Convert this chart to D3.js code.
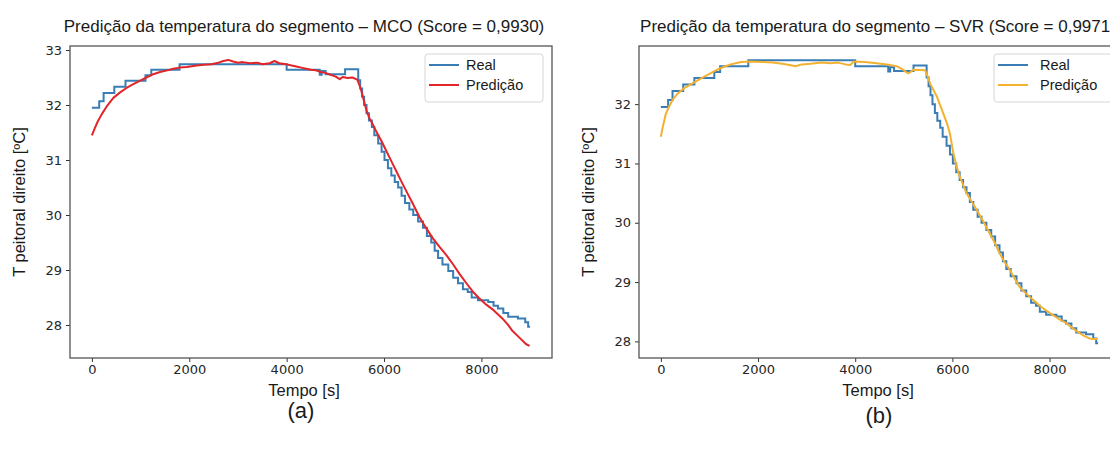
<!DOCTYPE html>
<html>
<head>
<meta charset="utf-8">
<script src="https://cdn.jsdelivr.net/npm/d3@7"></script>
<style>
  body { margin: 0; background: #fff; overflow: hidden; }
  svg text { font-family: "Liberation Sans", Arial, sans-serif; fill: #1a1a1a; }
  .tick text { font-family: "DejaVu Sans", sans-serif; font-size: 13px; fill: #262626; }
</style>
</head>
<body>
<svg id="chart" width="1110" height="450"></svg>
<script>
// tick values
const timeTicks = [0, 2000, 4000, 6000, 8000];
const mcoTempTicks = [28, 29, 30, 31, 32, 33];
const svrTempTicks = [28, 29, 30, 31, 32];

// measured temperature (stepped)
const realTime = [0, 150, 240, 460, 690, 1100, 1220, 1800, 4000, 4680, 4720, 4800, 5200,
  5470, 5510, 5550, 5590, 5640, 5690, 5750, 5800, 5880, 5950, 6010, 6080, 6150, 6220,
  6290, 6360, 6430, 6520, 6600, 6700, 6800, 6880, 6970, 7040, 7110, 7200, 7320, 7420,
  7520, 7620, 7720, 7800, 7930, 8140, 8250, 8340, 8450, 8550, 8750, 8900, 8960, 9000];
const realTemp = [31.95, 32.07, 32.22, 32.33, 32.44, 32.54, 32.64, 32.74, 32.64, 32.55, 32.62, 32.56, 32.65,
  32.45, 32.30, 32.15, 32.00, 31.85, 31.72, 31.60, 31.45, 31.30, 31.15, 31.00, 30.85, 30.72, 30.60,
  30.50, 30.35, 30.22, 30.10, 30.00, 29.88, 29.77, 29.62, 29.50, 29.35, 29.22, 29.10, 28.98, 28.86,
  28.76, 28.65, 28.60, 28.50, 28.45, 28.42, 28.35, 28.30, 28.22, 28.15, 28.12, 28.05, 27.97, 27.97];

// MCO prediction
const mcoTime = [0, 60, 120, 200, 300, 440, 580, 710, 850, 985, 1120, 1260, 1400, 1550, 1670, 1800,
  1950, 2150, 2300, 2450, 2600, 2700, 2800, 2900, 3000, 3100, 3250, 3400, 3500, 3650, 3750, 3850,
  3990, 4100, 4200, 4300, 4400, 4500, 4600, 4700, 4810, 4900, 5000, 5090, 5150, 5250, 5350, 5450,
  5520, 5580, 5640, 5700, 5780, 5840, 5950, 6050, 6150, 6250, 6350, 6460, 6600, 6730, 6860, 7000,
  7140, 7280, 7420, 7550, 7700, 7820, 7950, 8100, 8250, 8430, 8540, 8640, 8780, 8920, 8990];
const mcoTemp = [31.45, 31.58, 31.70, 31.83, 31.97, 32.13, 32.23, 32.31, 32.38, 32.44, 32.50, 32.56, 32.60, 32.63, 32.66, 32.68,
  32.69, 32.72, 32.73, 32.74, 32.77, 32.80, 32.82, 32.79, 32.77, 32.78, 32.76, 32.77, 32.74, 32.76, 32.80, 32.76,
  32.74, 32.72, 32.70, 32.68, 32.66, 32.64, 32.63, 32.60, 32.58, 32.55, 32.52, 32.47, 32.51, 32.49, 32.50, 32.46,
  32.30, 32.10, 31.90, 31.76, 31.63, 31.52, 31.34, 31.16, 30.98, 30.80, 30.62, 30.43, 30.19, 29.96, 29.77, 29.58,
  29.42, 29.27, 29.10, 28.93, 28.75, 28.61, 28.49, 28.37, 28.27, 28.12, 28.01, 27.89, 27.77, 27.65, 27.62];

// SVR prediction
const svrTime = [0, 40, 100, 170, 240, 350, 480, 650, 820, 1000, 1160, 1300, 1440, 1650, 1850, 2100,
  2300, 2500, 2650, 2770, 2900, 3080, 3300, 3490, 3650, 3800, 3900, 3970, 4200, 4440, 4650, 4850,
  4950, 5050, 5100, 5200, 5440, 5500, 5540, 5680, 5810, 5900, 5950, 6020, 6080, 6150, 6290, 6400,
  6500, 6650, 6770, 6880, 6970, 7080, 7180, 7280, 7380, 7500, 7660, 7830, 8000, 8170, 8340, 8480,
  8620, 8720, 8820, 8900, 8990];
const svrTemp = [31.45, 31.62, 31.83, 31.96, 32.07, 32.18, 32.27, 32.35, 32.43, 32.51, 32.58, 32.63, 32.67, 32.71, 32.72, 32.71,
  32.70, 32.68, 32.66, 32.64, 32.67, 32.68, 32.70, 32.69, 32.70, 32.67, 32.66, 32.72, 32.71, 32.69, 32.67, 32.64,
  32.60, 32.54, 32.52, 32.58, 32.57, 32.45, 32.35, 32.13, 31.85, 31.65, 31.50, 31.17, 30.97, 30.78, 30.50, 30.35,
  30.22, 30.00, 29.82, 29.65, 29.49, 29.33, 29.21, 29.06, 28.92, 28.82, 28.70, 28.58, 28.48, 28.39, 28.31, 28.22,
  28.14, 28.09, 28.05, 28.04, 28.04];

const realColor = "#3a7db5";
const svg = d3.select("#chart");

function drawPanel(p) {
  const x = d3.scaleLinear().domain([-450, 9450]).range([p.left, p.right]);
  const y = d3.scaleLinear().domain(p.yDomain).range([p.bottom, p.top]);
  const g = svg.append("g");

  g.append("g")
    .attr("transform", `translate(0,${p.bottom})`)
    .call(d3.axisBottom(x).tickValues(timeTicks).tickSize(4).tickPadding(3).tickFormat(d3.format("d")))
    .call(a => a.select(".domain").remove())
    .call(a => a.selectAll(".tick line").attr("stroke", "#333"));

  g.append("g")
    .attr("transform", `translate(${p.left},0)`)
    .call(d3.axisLeft(y).tickValues(p.yTicks).tickSize(4).tickPadding(4).tickFormat(d3.format("d")))
    .call(a => a.select(".domain").remove())
    .call(a => a.selectAll(".tick line").attr("stroke", "#333"));

  const real = realTime.map((t, i) => [t, realTemp[i]]);
  const pred = p.predTime.map((t, i) => [t, p.predTemp[i]]);

  g.append("path").datum(real)
    .attr("fill", "none").attr("stroke", realColor).attr("stroke-width", 2)
    .attr("d", d3.line().curve(d3.curveStepAfter).x(d => x(d[0])).y(d => y(d[1])));

  g.append("path").datum(pred)
    .attr("fill", "none").attr("stroke", p.predColor).attr("stroke-width", 2)
    .attr("stroke-linejoin", "round")
    .attr("d", d3.line().x(d => x(d[0])).y(d => y(d[1])));

  g.append("rect")
    .attr("x", p.left).attr("y", p.top)
    .attr("width", p.right - p.left).attr("height", p.bottom - p.top)
    .attr("fill", "none").attr("stroke", "#555").attr("stroke-width", 1.3);

  // legend
  const lg = g.append("g").attr("transform", `translate(${p.legendX},54)`);
  lg.append("rect").attr("width", 118).attr("height", 48).attr("rx", 3)
    .attr("fill", "#fff").attr("stroke", "#d6d6d6");
  [["Real", realColor], ["Predição", p.predColor]].forEach(([name, c], i) => {
    lg.append("line").attr("x1", 4).attr("x2", 34).attr("y1", 11 + i * 20).attr("y2", 11 + i * 20)
      .attr("stroke", c).attr("stroke-width", 2);
    lg.append("text").attr("x", p.legendTextX).attr("y", 16 + i * 20)
      .style("font-size", "14.5px").text(name);
  });

  g.append("text").attr("x", p.titleX).attr("y", 32).attr("text-anchor", "middle")
    .style("font-size", "17px").text(p.title);
  g.append("text").attr("x", p.titleX).attr("y", 396).attr("text-anchor", "middle")
    .style("font-size", "16.5px").text("Tempo [s]");
  g.append("text").attr("transform", `translate(${p.left - 45},${(p.top + p.bottom) / 2}) rotate(-90)`)
    .attr("text-anchor", "middle").style("font-size", "16.5px").text("T peitoral direito [ºC]");
  g.append("text").attr("x", p.tagX).attr("y", p.tagY).attr("text-anchor", "middle")
    .style("font-size", "22px").text(p.tag);
}

drawPanel({
  left: 70, right: 552, top: 46, bottom: 358,
  yDomain: [27.4, 33.073], yTicks: mcoTempTicks,
  predTime: mcoTime, predTemp: mcoTemp, predColor: "#e3252a",
  title: "Predição da temperatura do segmento – MCO (Score = 0,9930)", titleX: 304,
  legendX: 425, legendTextX: 41, tag: "(a)", tagX: 301, tagY: 418
});

drawPanel({
  left: 639, right: 1120, top: 46, bottom: 358,
  yDomain: [27.72, 32.98], yTicks: svrTempTicks,
  predTime: svrTime, predTemp: svrTemp, predColor: "#f2b12f",
  title: "Predição da temperatura do segmento – SVR (Score = 0,9971)", titleX: 878,
  legendX: 994, legendTextX: 46, tag: "(b)", tagX: 879, tagY: 423
});
</script>
</body>
</html>
